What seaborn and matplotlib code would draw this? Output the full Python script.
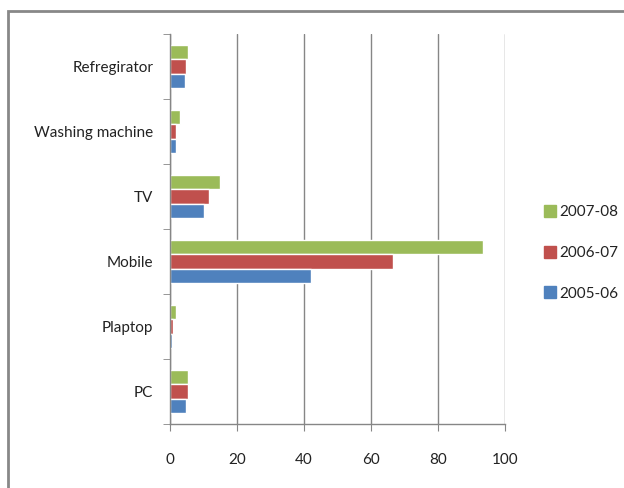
import numpy as np
import pandas as pd
import matplotlib
matplotlib.use("Agg")
import matplotlib.pyplot as plt
from matplotlib.patches import Rectangle
from matplotlib.lines import Line2D
import seaborn as sns

items = ["Refregirator", "Washing machine", "TV", "Mobile", "Plaptop", "PC"]
years = ["2007-08", "2006-07", "2005-06"]
v_2007_08 = [5.3, 3.0, 14.9, 93.4, 1.7, 5.5]
v_2006_07 = [4.7, 1.8, 11.7, 66.6, 0.8, 5.5]
v_2005_06 = [4.5, 1.8, 10.1, 42.1, 0.5, 4.7]
colors = ["#9BBB59", "#C0504D", "#4F81BD"]

df = pd.DataFrame({"Item": items, "2007-08": v_2007_08,
                   "2006-07": v_2006_07, "2005-06": v_2005_06})
df_long = df.melt(id_vars="Item", var_name="Year", value_name="Value")

sns.set_style("white")
plt.rcParams["font.family"] = ["Lato", "DejaVu Sans"]

fig = plt.figure(figsize=(6.24, 4.88), dpi=100)
ax = fig.add_axes([170 / 624, 1 - 424 / 488, 335 / 624, 390 / 488])

sns.barplot(data=df_long, y="Item", x="Value", hue="Year", order=items,
            hue_order=years, palette=colors, orient="h", width=0.65,
            saturation=1, ax=ax, legend=False)

ax.set_xlim(0, 100)
ax.set_ylim(len(items) - 0.5, -0.5)
ax.set_xticks([0, 20, 40, 60, 80, 100])
ax.set_xlabel("")
ax.set_ylabel("")
ax.grid(axis="x", color="#868686", linewidth=1)
ax.set_axisbelow(True)
for s in ["top", "right"]:
    ax.spines[s].set_visible(False)
for s in ["left", "bottom"]:
    ax.spines[s].set_color("#868686")
    ax.spines[s].set_linewidth(1)

ax.set_yticks(np.arange(len(items) + 1) - 0.5, minor=True)
ax.tick_params(axis="y", which="major", length=0, pad=12, labelsize=11, colors="#222222")
ax.tick_params(axis="y", which="minor", length=5, color="#868686", left=True)
ax.tick_params(axis="x", which="major", length=5, color="#868686", bottom=True,
               pad=16, labelsize=11, labelcolor="#222222")

handles = [Line2D([], [], marker="s", linestyle="none", markersize=8,
                  markerfacecolor=c, markeredgecolor=c) for c in colors]
fig.legend(handles, years, loc="center left", bbox_to_anchor=(530 / 624, 1 - 253 / 488),
           frameon=False, fontsize=11, labelspacing=1.75, handletextpad=0.1,
           handlelength=1.0, borderpad=0.3, labelcolor="#222222")

fig.patches.append(Rectangle((8 / 624, -0.1), 1.2, 1 - 11 / 488 + 0.1,
                             transform=fig.transFigure, fill=False,
                             edgecolor="#888888", linewidth=2))

fig.savefig("out.png", dpi=100)
